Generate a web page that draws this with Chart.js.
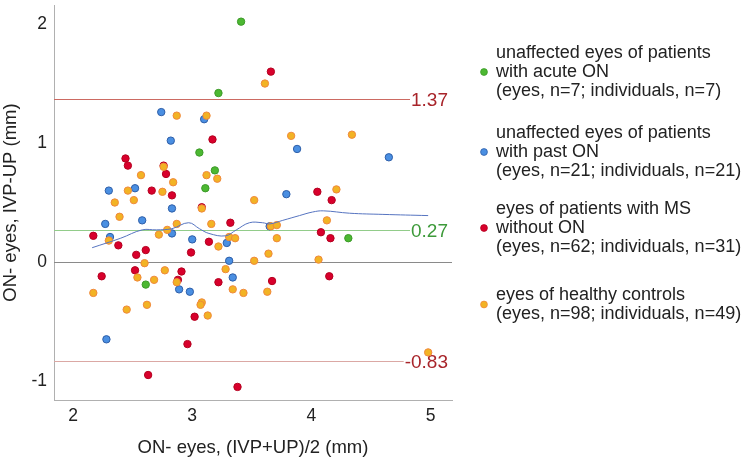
<!DOCTYPE html>
<html>
<head>
<meta charset="utf-8">
<script src="https://cdn.jsdelivr.net/npm/chart.js@4.4.1/dist/chart.umd.min.js"></script>
<style>
  html, body { margin: 0; padding: 0; background: #fff; }
  #wrap { position: relative; width: 748px; height: 463px; }
</style>
</head>
<body>
<div id="wrap"><canvas id="c" width="748" height="463"></canvas></div>
<script>
// ---------- data ----------
const acuteON = [[3.41,2.02],[3.22,1.42],[3.06,0.92],[3.19,0.77],[3.11,0.62],[2.61,-0.19],[4.31,0.20]];
const pastON = [[2.74,1.26],[3.10,1.20],[2.82,1.02],[2.30,0.60],[2.52,0.62],[2.83,0.45],[3.88,0.95],[4.65,0.88],
  [3.79,0.57],[2.27,0.32],[2.58,0.35],[2.31,0.21],[2.83,0.24],[3.00,0.19],[3.29,0.16],[3.31,0.01],[2.89,-0.23],
  [2.98,-0.25],[3.34,-0.13],[2.28,-0.65],[3.65,0.30]];
const msNoON = [[3.66,1.60],[3.17,1.03],[2.44,0.87],[2.46,0.81],[2.76,0.81],[2.78,0.74],[2.66,0.60],[2.83,0.56],
  [3.08,0.46],[4.05,0.59],[4.17,0.52],[3.32,0.33],[2.17,0.22],[2.38,0.14],[3.14,0.17],[2.53,0.06],[2.61,0.10],
  [2.99,0.08],[2.52,-0.07],[2.24,-0.12],[2.91,-0.08],[2.88,-0.15],[3.22,-0.17],[3.02,-0.46],[2.96,-0.69],
  [2.63,-0.95],[3.38,-1.05],[4.08,0.25],[4.16,0.20],[3.67,-0.16],[4.15,-0.12]];
const healthy = [[2.87,1.23],[3.12,1.23],[2.76,0.80],[2.57,0.73],[3.12,0.73],[3.21,0.70],[2.84,0.67],[2.46,0.60],
  [2.75,0.59],[2.35,0.50],[2.51,0.52],[3.08,0.45],[3.52,0.52],[3.61,1.50],[3.83,1.06],[4.34,1.07],[4.21,0.61],
  [2.39,0.38],[2.87,0.32],[3.16,0.32],[2.30,0.18],[2.72,0.23],[2.79,0.27],[3.22,0.13],[3.31,0.21],[3.36,0.20],
  [2.60,-0.01],[3.52,0.01],[2.54,-0.13],[2.77,-0.07],[2.68,-0.15],[2.87,-0.17],[3.28,-0.06],[3.34,-0.23],
  [3.43,-0.26],[2.17,-0.26],[2.45,-0.40],[2.62,-0.36],[3.08,-0.34],[3.07,-0.36],[3.13,-0.45],[4.13,0.35],
  [3.66,0.30],[3.71,0.31],[3.71,0.20],[3.64,0.07],[4.06,0.02],[3.63,-0.25],[4.98,-0.76]];
const smootherX = [2.16, 2.40, 2.58, 2.70, 2.83, 2.97, 3.06, 3.14, 3.28, 3.37, 3.48, 3.59, 3.65, 3.76, 3.90, 4.01, 4.10, 4.32, 4.60, 4.98];
const smootherY = [0.12, 0.20, 0.27, 0.27, 0.28, 0.33, 0.28, 0.24, 0.22, 0.27, 0.33, 0.33, 0.32, 0.35, 0.39, 0.42, 0.43, 0.41, 0.40, 0.39];
const refValues = [1.37, 0.27, -0.83];
const refLabels = ['1.37', '0.27', '-0.83'];
const xTicks = [2, 3, 4, 5];
const yTicks = [-1, 0, 1, 2];
const legendItems = [
  ['unaffected eyes of patients', 'with acute ON', '(eyes, n=7; individuals, n=7)'],
  ['unaffected eyes of patients', 'with past ON', '(eyes, n=21; individuals, n=21)'],
  ['eyes of patients with MS', 'without ON', '(eyes, n=62; individuals, n=31)'],
  ['eyes of healthy controls', '(eyes, n=98; individuals, n=49)']
];
const xTitle = 'ON- eyes, (IVP+UP)/2 (mm)';
const yTitle = 'ON- eyes, IVP-UP (mm)';

// ---------- styles ----------
const FONT = '"Liberation Sans", Arial, sans-serif';
const groupStyles = [
  { fill: '#4cb832', border: '#3c9a28' },
  { fill: '#4a8fe2', border: '#2e5ea8' },
  { fill: '#d8002c', border: '#b4001f' },
  { fill: '#f2b324', border: '#f0883c' }
];
const refStyles = [
  { line: '#cc6a62', text: '#a8242a' },
  { line: '#92cc8a', text: '#3d9a3a' },
  { line: '#dba8a4', text: '#a8242a' }
];

const toPts = arr => arr.map(p => ({ x: p[0], y: p[1] }));
const groups = [acuteON, pastON, msNoON, healthy];
const orders = [4, 3, 2, 1];

const datasets = groups.map((g, i) => ({
  type: 'scatter',
  data: toPts(g),
  backgroundColor: groupStyles[i].fill,
  borderColor: groupStyles[i].border,
  borderWidth: 1,
  pointRadius: 3.7,
  order: orders[i]
}));
datasets.push({
  type: 'line',
  data: smootherX.map((x, i) => ({ x: x, y: smootherY[i] })),
  borderColor: '#5674c0',
  borderWidth: 1,
  pointRadius: 0,
  tension: 0.4,
  fill: false,
  order: 0
});

const refPlugin = {
  id: 'refLines',
  beforeDatasetsDraw(chart) {
    const { ctx, chartArea, scales } = chart;
    const y0 = Math.round(scales.y.getPixelForValue(0)) + 0.5;
    ctx.save();
    ctx.strokeStyle = '#8a8a8a';
    ctx.lineWidth = 1;
    ctx.beginPath();
    ctx.moveTo(chartArea.left, y0);
    ctx.lineTo(chartArea.right, y0);
    ctx.stroke();
    ctx.font = '19px ' + FONT;
    ctx.textBaseline = 'middle';
    refValues.forEach((v, i) => {
      const y = Math.round(scales.y.getPixelForValue(v)) + 0.5;
      const w = ctx.measureText(refLabels[i]).width;
      const tx = chartArea.right - 4 - w;
      ctx.strokeStyle = refStyles[i].line;
      ctx.beginPath();
      ctx.moveTo(chartArea.left, y);
      ctx.lineTo(tx - 1, y);
      ctx.stroke();
      ctx.fillStyle = refStyles[i].text;
      ctx.textAlign = 'left';
      ctx.fillText(refLabels[i], tx, y + 1);
    });
    ctx.restore();
  }
};

const legendPlugin = {
  id: 'sideLegend',
  afterDraw(chart) {
    const ctx = chart.ctx;
    const tops = [53, 133, 209, 295];
    const lh = 19;
    ctx.save();
    ctx.font = '18px ' + FONT;
    ctx.textBaseline = 'middle';
    ctx.textAlign = 'left';
    legendItems.forEach((lines, i) => {
      lines.forEach((t, j) => {
        ctx.fillStyle = '#222';
        ctx.fillText(t, 496, tops[i] + j * lh);
      });
      const dotY = lines.length === 3 ? tops[i] + lh : tops[i] + lh / 2;
      ctx.beginPath();
      ctx.arc(484, dotY, 3.4, 0, Math.PI * 2);
      ctx.fillStyle = groupStyles[i].fill;
      ctx.fill();
      ctx.lineWidth = 0.8;
      ctx.strokeStyle = groupStyles[i].border;
      ctx.stroke();
    });
    ctx.restore();
  }
};

new Chart(document.getElementById('c'), {
  type: 'scatter',
  data: { datasets },
  options: {
    responsive: false,
    animation: false,
    devicePixelRatio: 1,
    layout: { padding: { left: 0, right: 296, top: 5, bottom: 0 } },
    plugins: { legend: { display: false }, tooltip: { enabled: false } },
    scales: {
      x: {
        type: 'linear',
        min: 1.84, max: 5.18,
        grid: { display: false, drawTicks: false },
        border: { display: true, color: '#b0b0b0', width: 1 },
        afterBuildTicks: s => { s.ticks = xTicks.map(v => ({ value: v })); },
        afterFit: s => { s.height = 63; s.paddingLeft = 0; s.paddingRight = 0; },
        ticks: { color: '#222', font: { family: FONT, size: 17.5 }, padding: 6 },
        title: { display: true, text: xTitle, color: '#222', font: { family: FONT, size: 18.5 }, padding: { top: 0, bottom: 4 } }
      },
      y: {
        type: 'linear',
        min: -1.16, max: 2.16,
        grid: { display: false, drawTicks: false },
        border: { display: true, color: '#b0b0b0', width: 1 },
        afterBuildTicks: s => { s.ticks = yTicks.map(v => ({ value: v })); },
        afterFit: s => { s.width = 54; s.paddingTop = 0; s.paddingBottom = 0; },
        ticks: { color: '#222', font: { family: FONT, size: 17.5 }, padding: 7 },
        title: { display: true, text: yTitle, color: '#222', font: { family: FONT, size: 18.5 }, padding: { top: 0, bottom: 0 } }
      }
    }
  },
  plugins: [refPlugin, legendPlugin]
});
</script>
</body>
</html>
